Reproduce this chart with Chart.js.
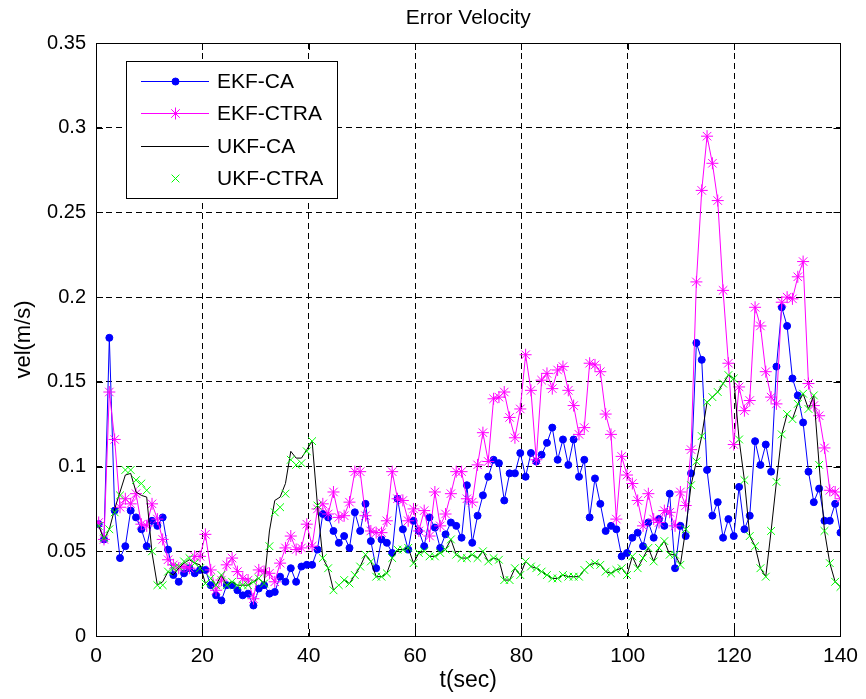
<!DOCTYPE html>
<html>
<head>
<meta charset="utf-8">
<script src="https://cdn.jsdelivr.net/npm/chart.js@4.4.1/dist/chart.umd.min.js"></script>
<style>
  html, body { margin: 0; padding: 0; background: #fff; }
  #wrap { width: 866px; height: 699px; }
</style>
</head>
<body>
<div id="wrap"><canvas id="errChart" width="866" height="699"></canvas></div>
<script>
// values, one sample per second (140 samples)
const T_FIRST = 0.5;
const T_LAST = 140;

const ekfCA = [
  0.066, 0.057, 0.176, 0.074, 0.046, 0.053, 0.074, 0.070, 0.063, 0.053, 0.068, 0.065, 0.070, 0.051, 0.036, 0.032, 0.037, 0.040, 0.037, 0.039, 0.039, 0.030, 0.024, 0.021,
  0.030, 0.030, 0.027, 0.024, 0.025, 0.018, 0.028, 0.030, 0.025, 0.026, 0.035, 0.032, 0.040, 0.032, 0.041, 0.042, 0.042, 0.051, 0.072, 0.070, 0.062, 0.055, 0.059,
  0.052, 0.073, 0.062, 0.078, 0.056, 0.040, 0.057, 0.055, 0.049, 0.081, 0.063, 0.051, 0.068, 0.062, 0.053, 0.070, 0.064, 0.052, 0.060, 0.067, 0.065, 0.058, 0.089, 0.055,
  0.071, 0.083, 0.094, 0.104, 0.102, 0.080, 0.096, 0.096, 0.108, 0.094, 0.108, 0.103, 0.107, 0.114, 0.123, 0.104, 0.116, 0.101, 0.116, 0.094, 0.104, 0.070, 0.093,
  0.078, 0.062, 0.065, 0.063, 0.047, 0.049, 0.058, 0.061, 0.053, 0.067, 0.058, 0.069, 0.065, 0.084, 0.040, 0.065, 0.059, 0.096, 0.173, 0.163, 0.098, 0.071, 0.079,
  0.058, 0.069, 0.059, 0.088, 0.063, 0.071, 0.115, 0.101, 0.113, 0.097, 0.159, 0.194, 0.183, 0.152, 0.142, 0.126, 0.097, 0.079, 0.087, 0.068, 0.068, 0.078, 0.061
];

const ekfCTRA = [
  0.067, 0.057, 0.144, 0.116, 0.076, 0.081, 0.078, 0.084, 0.066, 0.065, 0.078, 0.069, 0.057, 0.045, 0.042, 0.040, 0.041, 0.040, 0.047, 0.047, 0.060, 0.039, 0.027, 0.033,
  0.042, 0.046, 0.038, 0.034, 0.033, 0.022, 0.039, 0.038, 0.037, 0.032, 0.043, 0.052, 0.059, 0.051, 0.052, 0.066, 0.053, 0.075, 0.078, 0.072, 0.085, 0.070, 0.071,
  0.079, 0.097, 0.097, 0.071, 0.062, 0.061, 0.061, 0.068, 0.097, 0.081, 0.080, 0.068, 0.075, 0.062, 0.074, 0.059, 0.085, 0.065, 0.072, 0.084, 0.097, 0.097, 0.081, 0.079,
  0.101, 0.120, 0.103, 0.140, 0.141, 0.144, 0.129, 0.117, 0.134, 0.166, 0.145, 0.104, 0.151, 0.155, 0.146, 0.157, 0.159, 0.145, 0.136, 0.119, 0.123, 0.161, 0.160,
  0.156, 0.131, 0.119, 0.069, 0.106, 0.095, 0.090, 0.080, 0.065, 0.084, 0.069, 0.067, 0.074, 0.073, 0.065, 0.085, 0.077, 0.110, 0.209, 0.263, 0.295, 0.279, 0.257,
  0.204, 0.161, 0.113, 0.147, 0.133, 0.139, 0.194, 0.183, 0.156, 0.141, 0.137, 0.197, 0.200, 0.199, 0.212, 0.221, 0.149, 0.136, 0.130, 0.111, 0.086, 0.085, 0.081
];

const ukfCA = [
  0.065, 0.057, 0.063, 0.075, 0.085, 0.095, 0.096, 0.085, 0.083, 0.082, 0.049, 0.030, 0.032, 0.038, 0.036, 0.040, 0.043, 0.045, 0.043, 0.042, 0.031, 0.034, 0.030, 0.036,
  0.030, 0.032, 0.030, 0.030, 0.030, 0.032, 0.034, 0.031, 0.062, 0.080, 0.082, 0.090, 0.109, 0.105, 0.105, 0.110, 0.115, 0.077, 0.046, 0.040, 0.027, 0.030, 0.033,
  0.031, 0.036, 0.041, 0.048, 0.044, 0.035, 0.035, 0.037, 0.046, 0.051, 0.051, 0.052, 0.043, 0.049, 0.050, 0.047, 0.047, 0.049, 0.051, 0.057, 0.048, 0.046, 0.046, 0.048,
  0.046, 0.050, 0.044, 0.046, 0.045, 0.033, 0.033, 0.040, 0.036, 0.044, 0.041, 0.040, 0.038, 0.036, 0.034, 0.034, 0.036, 0.035, 0.035, 0.035, 0.039, 0.042, 0.043,
  0.042, 0.038, 0.037, 0.039, 0.040, 0.036, 0.047, 0.040, 0.046, 0.052, 0.044, 0.052, 0.056, 0.048, 0.048, 0.042, 0.063, 0.089, 0.103, 0.118, 0.138, 0.141, 0.144,
  0.149, 0.154, 0.152, 0.116, 0.092, 0.059, 0.053, 0.040, 0.035, 0.062, 0.091, 0.119, 0.131, 0.128, 0.137, 0.143, 0.134, 0.142, 0.101, 0.062, 0.043, 0.032, 0.029
];

const ukfCTRA = [
  0.065, 0.058, 0.063, 0.073, 0.083, 0.098, 0.098, 0.092, 0.090, 0.086, 0.050, 0.030, 0.030, 0.038, 0.040, 0.041, 0.044, 0.046, 0.043, 0.040, 0.031, 0.034, 0.030, 0.036,
  0.030, 0.032, 0.030, 0.030, 0.030, 0.032, 0.034, 0.031, 0.053, 0.073, 0.076, 0.084, 0.104, 0.101, 0.102, 0.109, 0.115, 0.077, 0.046, 0.040, 0.027, 0.030, 0.033,
  0.031, 0.036, 0.041, 0.048, 0.044, 0.035, 0.035, 0.037, 0.046, 0.051, 0.051, 0.052, 0.043, 0.049, 0.050, 0.047, 0.047, 0.049, 0.051, 0.057, 0.048, 0.046, 0.046, 0.048,
  0.046, 0.050, 0.044, 0.046, 0.045, 0.033, 0.033, 0.040, 0.036, 0.044, 0.041, 0.040, 0.038, 0.036, 0.034, 0.034, 0.036, 0.035, 0.035, 0.035, 0.039, 0.042, 0.043,
  0.042, 0.038, 0.037, 0.039, 0.040, 0.036, 0.047, 0.040, 0.046, 0.052, 0.044, 0.052, 0.056, 0.048, 0.048, 0.042, 0.063, 0.089, 0.103, 0.118, 0.138, 0.141, 0.144,
  0.149, 0.154, 0.152, 0.116, 0.092, 0.059, 0.053, 0.040, 0.035, 0.062, 0.091, 0.119, 0.131, 0.128, 0.137, 0.143, 0.134, 0.142, 0.101, 0.062, 0.043, 0.032, 0.029
];

const seriesNames = ['EKF-CA', 'EKF-CTRA', 'UKF-CA', 'UKF-CTRA'];
const xTickLabels = ['0', '20', '40', '60', '80', '100', '120', '140'];
const yTickLabels = ['0', '0.05', '0.1', '0.15', '0.2', '0.25', '0.3', '0.35'];
const chartTitle = 'Error Velocity';
const xTitle = 't(sec)';
const yTitle = 'vel(m/s)';

const FONT = '"Liberation Sans", Arial, Helvetica, sans-serif';

// sample times (uniform spacing between first and last sample)
const timeSec = ekfCA.map((_, k) => T_FIRST + k * (T_LAST - T_FIRST) / (ekfCA.length - 1));
const toPoints = arr => arr.map((v, k) => ({ x: timeSec[k], y: v }));

// matlab-like frame, inward ticks, titles and legend box
const matlabDecor = {
    id: 'matlabDecor',
    afterDraw(chart) {
        const ctx = chart.ctx;
        const a = chart.chartArea;
        const xs = chart.scales.x;
        const ys = chart.scales.y;
        ctx.save();

        // axes box
        ctx.strokeStyle = '#000';
        ctx.lineWidth = 1;
        ctx.strokeRect(Math.round(a.left) + 0.5, Math.round(a.top) + 0.5,
            Math.round(a.right - a.left), Math.round(a.bottom - a.top));

        // tick marks pointing inwards
        const tl = 7;
        ctx.beginPath();
        xTickLabels.forEach((_, i) => {
            const px = Math.round(xs.getPixelForValue(i * 20)) + 0.5;
            ctx.moveTo(px, a.bottom); ctx.lineTo(px, a.bottom - tl);
            ctx.moveTo(px, a.top); ctx.lineTo(px, a.top + tl);
        });
        yTickLabels.forEach((_, i) => {
            const py = Math.round(ys.getPixelForValue(i * 0.05)) + 0.5;
            ctx.moveTo(a.left, py); ctx.lineTo(a.left + tl, py);
            ctx.moveTo(a.right, py); ctx.lineTo(a.right - tl, py);
        });
        ctx.stroke();

        // titles
        ctx.fillStyle = '#000';
        ctx.textAlign = 'center';
        ctx.textBaseline = 'alphabetic';
        ctx.font = '21px ' + FONT;
        ctx.fillText(chartTitle, (a.left + a.right) / 2, 24);
        ctx.font = '23px ' + FONT;
        ctx.fillText(xTitle, (a.left + a.right) / 2, 687);
        ctx.save();
        ctx.translate(30, (a.top + a.bottom) / 2);
        ctx.rotate(-Math.PI / 2);
        ctx.font = '22px ' + FONT;
        ctx.fillText(yTitle, 0, 0);
        ctx.restore();

        // legend
        const box = { x: 126.5, y: 61.5, w: 211, h: 137 };
        ctx.fillStyle = '#fff';
        ctx.fillRect(box.x, box.y, box.w, box.h);
        ctx.strokeStyle = '#000';
        ctx.strokeRect(box.x, box.y, box.w, box.h);

        ctx.font = '21px ' + FONT;
        ctx.textAlign = 'left';
        ctx.textBaseline = 'middle';
        chart.data.datasets.forEach((ds, i) => {
            const cy = Math.round(81 + i * 32.3) + 0.5;
            if (ds.showLine !== false) {
                ctx.strokeStyle = ds.borderColor;
                ctx.lineWidth = 1;
                ctx.beginPath();
                ctx.moveTo(141, cy);
                ctx.lineTo(209, cy);
                ctx.stroke();
            }
            if (ds.pointRadius > 0) {
                ctx.fillStyle = ds.pointBackgroundColor;
                ctx.strokeStyle = ds.pointBorderColor;
                ctx.lineWidth = ds.pointBorderWidth;
                Chart.helpers.drawPoint(ctx, {
                    pointStyle: ds.pointStyle,
                    radius: ds.pointRadius,
                    borderWidth: ds.pointBorderWidth,
                    rotation: 0
                }, 175.5, cy);
            }
            ctx.fillStyle = '#000';
            ctx.fillText(seriesNames[i], 217, cy + 1);
        });

        ctx.restore();
    }
};

new Chart(document.getElementById('errChart'), {
    type: 'line',
    data: {
        datasets: [
            {
                label: seriesNames[0],
                data: toPoints(ekfCA),
                borderColor: '#0000FF',
                borderWidth: 1,
                pointStyle: 'circle',
                pointRadius: 3.5,
                pointBorderWidth: 1,
                pointBackgroundColor: '#0000FF',
                pointBorderColor: '#0000FF',
                order: 3
            },
            {
                label: seriesNames[1],
                data: toPoints(ekfCTRA),
                borderColor: '#FF00FF',
                borderWidth: 1,
                pointStyle: 'star',
                pointRadius: 6,
                pointBorderWidth: 1,
                pointBackgroundColor: '#FF00FF',
                pointBorderColor: '#FF00FF',
                order: 2
            },
            {
                label: seriesNames[2],
                data: toPoints(ukfCA),
                borderColor: '#000000',
                borderWidth: 1,
                pointRadius: 0,
                order: 1
            },
            {
                label: seriesNames[3],
                data: toPoints(ukfCTRA),
                showLine: false,
                borderColor: '#00FF00',
                pointStyle: 'crossRot',
                pointRadius: 5.5,
                pointBorderWidth: 1,
                pointBackgroundColor: '#00FF00',
                pointBorderColor: '#00FF00',
                order: 0
            }
        ]
    },
    options: {
        responsive: false,
        animation: false,
        devicePixelRatio: 1,
        layout: { padding: { left: 0, right: 21, top: 43, bottom: 0 } },
        plugins: {
            legend: { display: false },
            title: { display: false },
            tooltip: { enabled: false }
        },
        elements: { line: { tension: 0 } },
        scales: {
            x: {
                type: 'linear',
                min: 0,
                max: 140,
                afterFit(scale) { scale.height = 63; },
                ticks: {
                    stepSize: 20,
                    color: '#000',
                    padding: 8,
                    maxRotation: 0,
                    font: { family: FONT, size: 21 },
                    callback: v => xTickLabels[Math.round(v / 20)]
                },
                grid: { color: '#000', lineWidth: 1, drawTicks: false },
                border: { display: false, dash: [6, 4] }
            },
            y: {
                type: 'linear',
                min: 0,
                max: 0.35,
                afterFit(scale) { scale.width = 96; },
                ticks: {
                    stepSize: 0.05,
                    color: '#000',
                    padding: 10,
                    font: { family: FONT, size: 20 },
                    callback: v => yTickLabels[Math.round(v / 0.05)]
                },
                grid: { color: '#000', lineWidth: 1, drawTicks: false },
                border: { display: false, dash: [6, 4] }
            }
        }
    },
    plugins: [matlabDecor]
});
</script>
</body>
</html>
